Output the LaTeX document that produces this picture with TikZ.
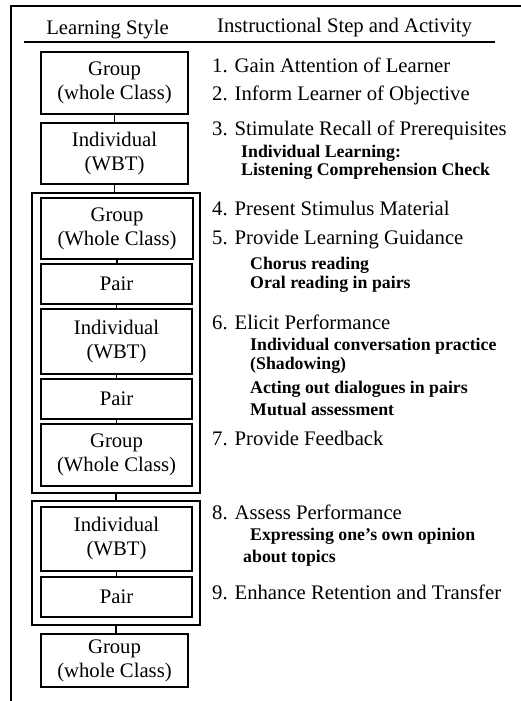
\documentclass[tikz,border=0pt]{standalone}
\usepackage{fontspec}
\setmainfont{Liberation Serif}

\begin{document}
\begin{tikzpicture}[x=1pt, y=-1pt,
 every node/.style = {inner sep=0pt, font=\fontsize{20.7}{24}\selectfont},
 box/.style = {draw, line width=1.8pt, align=center, minimum width=151pt},
 frame/.style = {draw, line width=1.8pt, minimum width=168pt},
 link/.style = {draw, line width=1.8pt},
 stepline/.style = {anchor=mid west},
 activity/.style = {anchor=mid west, font=\fontsize{17.8}{21}\selectfont\bfseries}]
 \useasboundingbox (0,0) rectangle (521,701);
 % open frame: top and left edges only
 \draw [line width=2.2pt] (11,701) -- (11,6) -- (521,6);

 % column heads
 \node (hstyle) at (107.5,30) {Learning Style};
 \node [stepline] (hstep) at (217,30) {Instructional Step and Activity};
 \draw [line width=1.5pt] (24,42) -- (495,42);

 % learning style column
 \node [box, minimum width=147pt, minimum height=62pt] (g1) at (114.5,83) {Group\\(whole Class)};
 \node [box, minimum width=147pt, minimum height=61pt] (i1) at (114.5,153.5) {Individual\\(WBT)};

 \node [frame, minimum height=300pt] (f1) at (116,343) {};
 \node [box, minimum width=152pt, minimum height=61pt] (g2) at (117,228.5) {Group\\(Whole Class)};
 \node [box, minimum height=40pt] (p1) at (116.5,284) {Pair};
 \node [box, minimum height=65pt] (i2) at (116.5,341.5) {Individual\\(WBT)};
 \node [box, minimum height=40pt] (p2) at (116.5,399) {Pair};
 \node [box, minimum height=62pt] (g3) at (116.5,455) {Group\\(Whole Class)};

 \node [frame, minimum height=124pt] (f2) at (116,563) {};
 \node [box, minimum height=64pt] (i3) at (116.5,539) {Individual\\(WBT)};
 \node [box, minimum height=40pt] (p3) at (116.5,597) {Pair};

 \node [box, minimum width=147pt, minimum height=53pt] (g4) at (114.5,660.5) {Group\\(whole Class)};

 \foreach \a/\b in {g1/i1, i1/f1, g2/p1, p1/i2, i2/p2, p2/g3, f1/f2, i3/p3, f2/g4}
  \draw [link] (\a.south) -- (\a.south |- \b.north);

 % instructional steps
 \foreach \y/\t [count=\i] in {70/1. Gain Attention of Learner,
  98/2. Inform Learner of Objective,
  133/3. Stimulate Recall of Prerequisites,
  213/4. Present Stimulus Material,
  242/5. Provide Learning Guidance,
  327/6. Elicit Performance,
  443/7. Provide Feedback,
  517/8. Assess Performance,
  597/9. Enhance Retention and Transfer}
  \node [stepline] (s\i) at (212,\y) {\t};

 % activities under the steps
 \node [activity] (a3a) at (241,155) {Individual Learning:};
 \node [activity] (a3b) at (241,173) {Listening Comprehension Check};
 \node [activity] (a5a) at (250,267) {Chorus reading};
 \node [activity] (a5b) at (250,286) {Oral reading in pairs};
 \node [activity] (a6a) at (250,348) {Individual conversation practice};
 \node [activity] (a6b) at (250,367) {(Shadowing)};
 \node [activity] (a6c) at (250,391) {Acting out dialogues in pairs};
 \node [activity] (a6d) at (250,413) {Mutual assessment};
 \node [activity] (a8a) at (250,538) {Expressing one's own opinion};
 \node [activity] (a8b) at (243,560) {about topics};
\end{tikzpicture}
\end{document}
